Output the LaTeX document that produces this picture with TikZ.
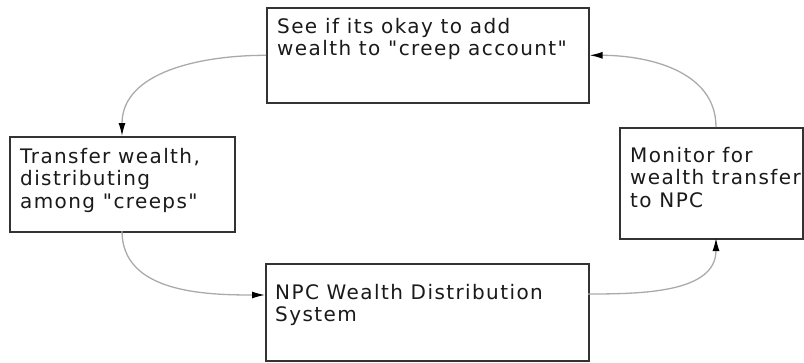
\documentclass[tikz,border=0pt]{standalone}
\usepackage{fontspec}
\setmainfont{DejaVu Sans}[LetterSpace=7, Ligatures=TeXOff]
\usetikzlibrary{arrows.meta}
\definecolor{boxline}{HTML}{333333}
\definecolor{conn}{HTML}{AAAAAA}
\definecolor{txtcol}{HTML}{1A1A1A}
\tikzset{
  stepbox/.style={draw=boxline, line width=1.6pt, fill=white, inner sep=0pt, anchor=north west},
  boxtext/.style={anchor=north west, inner sep=0pt, align=left, text=txtcol,
                  font={\fontsize{20}{22.5}\selectfont}},
  conn/.style={draw=conn, line width=1.3pt,
               -{Latex[length=13pt,width=7pt,color=black]}},
}
\begin{document}
\begin{tikzpicture}[x=1pt,y=-1pt]
\useasboundingbox (0,0) rectangle (804,362);
% boxes
\node[stepbox, minimum width=322pt, minimum height=95pt] (topbox) at (266,7) {};
\node[stepbox, minimum width=225pt, minimum height=95pt] (leftbox) at (9,136) {};
\node[stepbox, minimum width=183pt, minimum height=111pt] (rightbox) at (619,127) {};
\node[stepbox, minimum width=323pt, minimum height=97pt] (botbox) at (265,263) {};
% texts
\node[boxtext] (toptxt) at (277,18) {See if its okay to add\\wealth to "creep account"};
\node[boxtext] (lefttxt) at (20,148) {Transfer wealth,\\distributing\\among "creeps"};
\node[boxtext] (righttxt) at (630,147) {Monitor for\\wealth transfer\\to NPC};
\node[boxtext] (bottxt) at (275,284) {NPC Wealth Distribution\\System};
% connector anchor points
\coordinate (c1s) at (topbox.west);
\coordinate (c1e) at (122,136);
\coordinate (c2s) at (122,231);
\coordinate (c2e) at (265,295);
\coordinate (c3s) at (588,294);
\coordinate (c3e) at (716,238);
\coordinate (c4s) at (716,127);
\coordinate (c4e) at (topbox.east);
% connectors
\draw[conn] (c1s) to[out=180,in=90] (c1e);
\draw[conn] (c2s) to[out=-90,in=180] (c2e);
\draw[conn] (c3s) to[out=0,in=-90] (c3e);
\draw[conn] (c4s) to[out=90,in=0] (c4e);
\end{tikzpicture}
\end{document}
